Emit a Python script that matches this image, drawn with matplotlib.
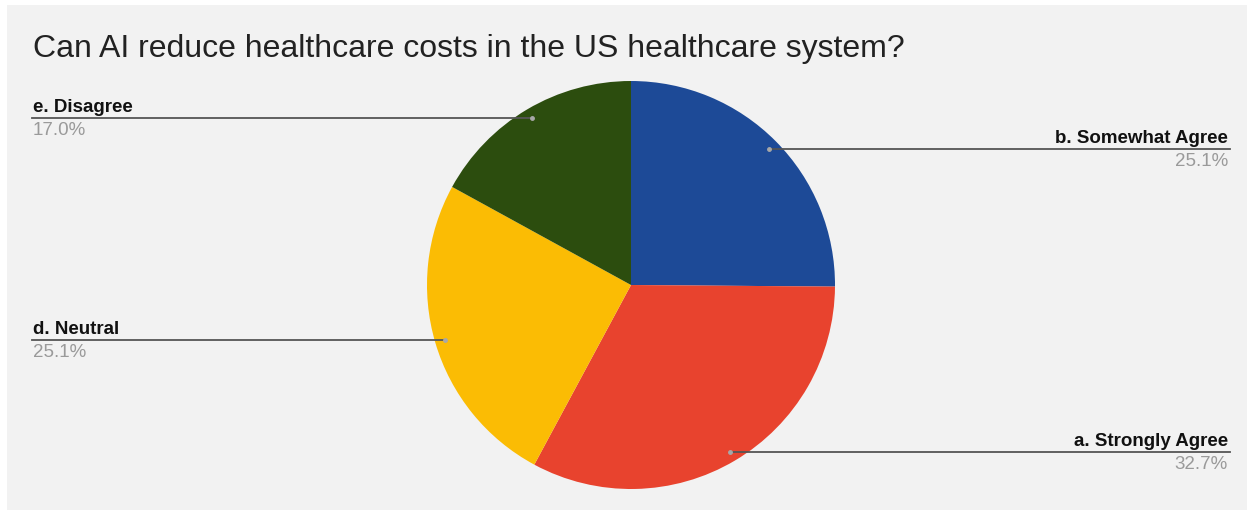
import numpy as np
import matplotlib.pyplot as plt
from matplotlib.patches import Rectangle

plt.rcParams['font.family'] = ['Liberation Sans', 'DejaVu Sans']

title = 'Can AI reduce healthcare costs in the US healthcare system?'
labels = ['b. Somewhat Agree', 'a. Strongly Agree', 'd. Neutral', 'e. Disagree']
shares = [25.1, 32.7, 25.1, 17.0]
colors = ['#1d4a97', '#e8432e', '#fbbc04', '#2c4d0e']

W, H = 1253, 511
fig = plt.figure(figsize=(W / 100, H / 100), dpi=100, facecolor='white')
ax = fig.add_axes([0, 0, 1, 1])

# light gray card behind the chart
ax.add_patch(Rectangle((7, 1), 1240, 505, facecolor='#f2f2f2', edgecolor='none', zorder=0))

cx, cy, R = 631, H - 285, 204
wedges, _ = ax.pie(shares, colors=colors, startangle=90, counterclock=False,
                   center=(cx, cy), radius=R, wedgeprops=dict(linewidth=0),
                   frame=True)
ax.set_xlim(0, W)
ax.set_ylim(0, H)
ax.set_aspect('equal')
ax.axis('off')

ax.text(33, H - 57, title, fontsize=23, color='#222222', va='baseline', ha='left')

total = sum(shares)
for w, lab, val in zip(wedges, labels, shares):
    mid = np.deg2rad((w.theta1 + w.theta2) / 2)
    px = cx + 0.95 * R * np.cos(mid)
    py = cy + 0.95 * R * np.sin(mid)
    right = px > cx
    xend = 1230 if right else 32
    ax.plot([px, xend], [py, py], color='#555555', lw=1.3, zorder=3)
    ax.plot(px, py, 'o', color='#a8a8a8', ms=2.5, zorder=4)
    ha = 'right' if right else 'left'
    xt = 1228 if right else 33
    ax.text(xt, py + 6, lab, fontsize=13.5, fontweight='bold', color='#111111',
            ha=ha, va='baseline')
    ax.text(xt, py - 4, f'{val / total * 100:.1f}%', fontsize=13.5, color='#9a9a9a',
            ha=ha, va='top')

fig.savefig('out.png', dpi=100, facecolor=fig.get_facecolor())
